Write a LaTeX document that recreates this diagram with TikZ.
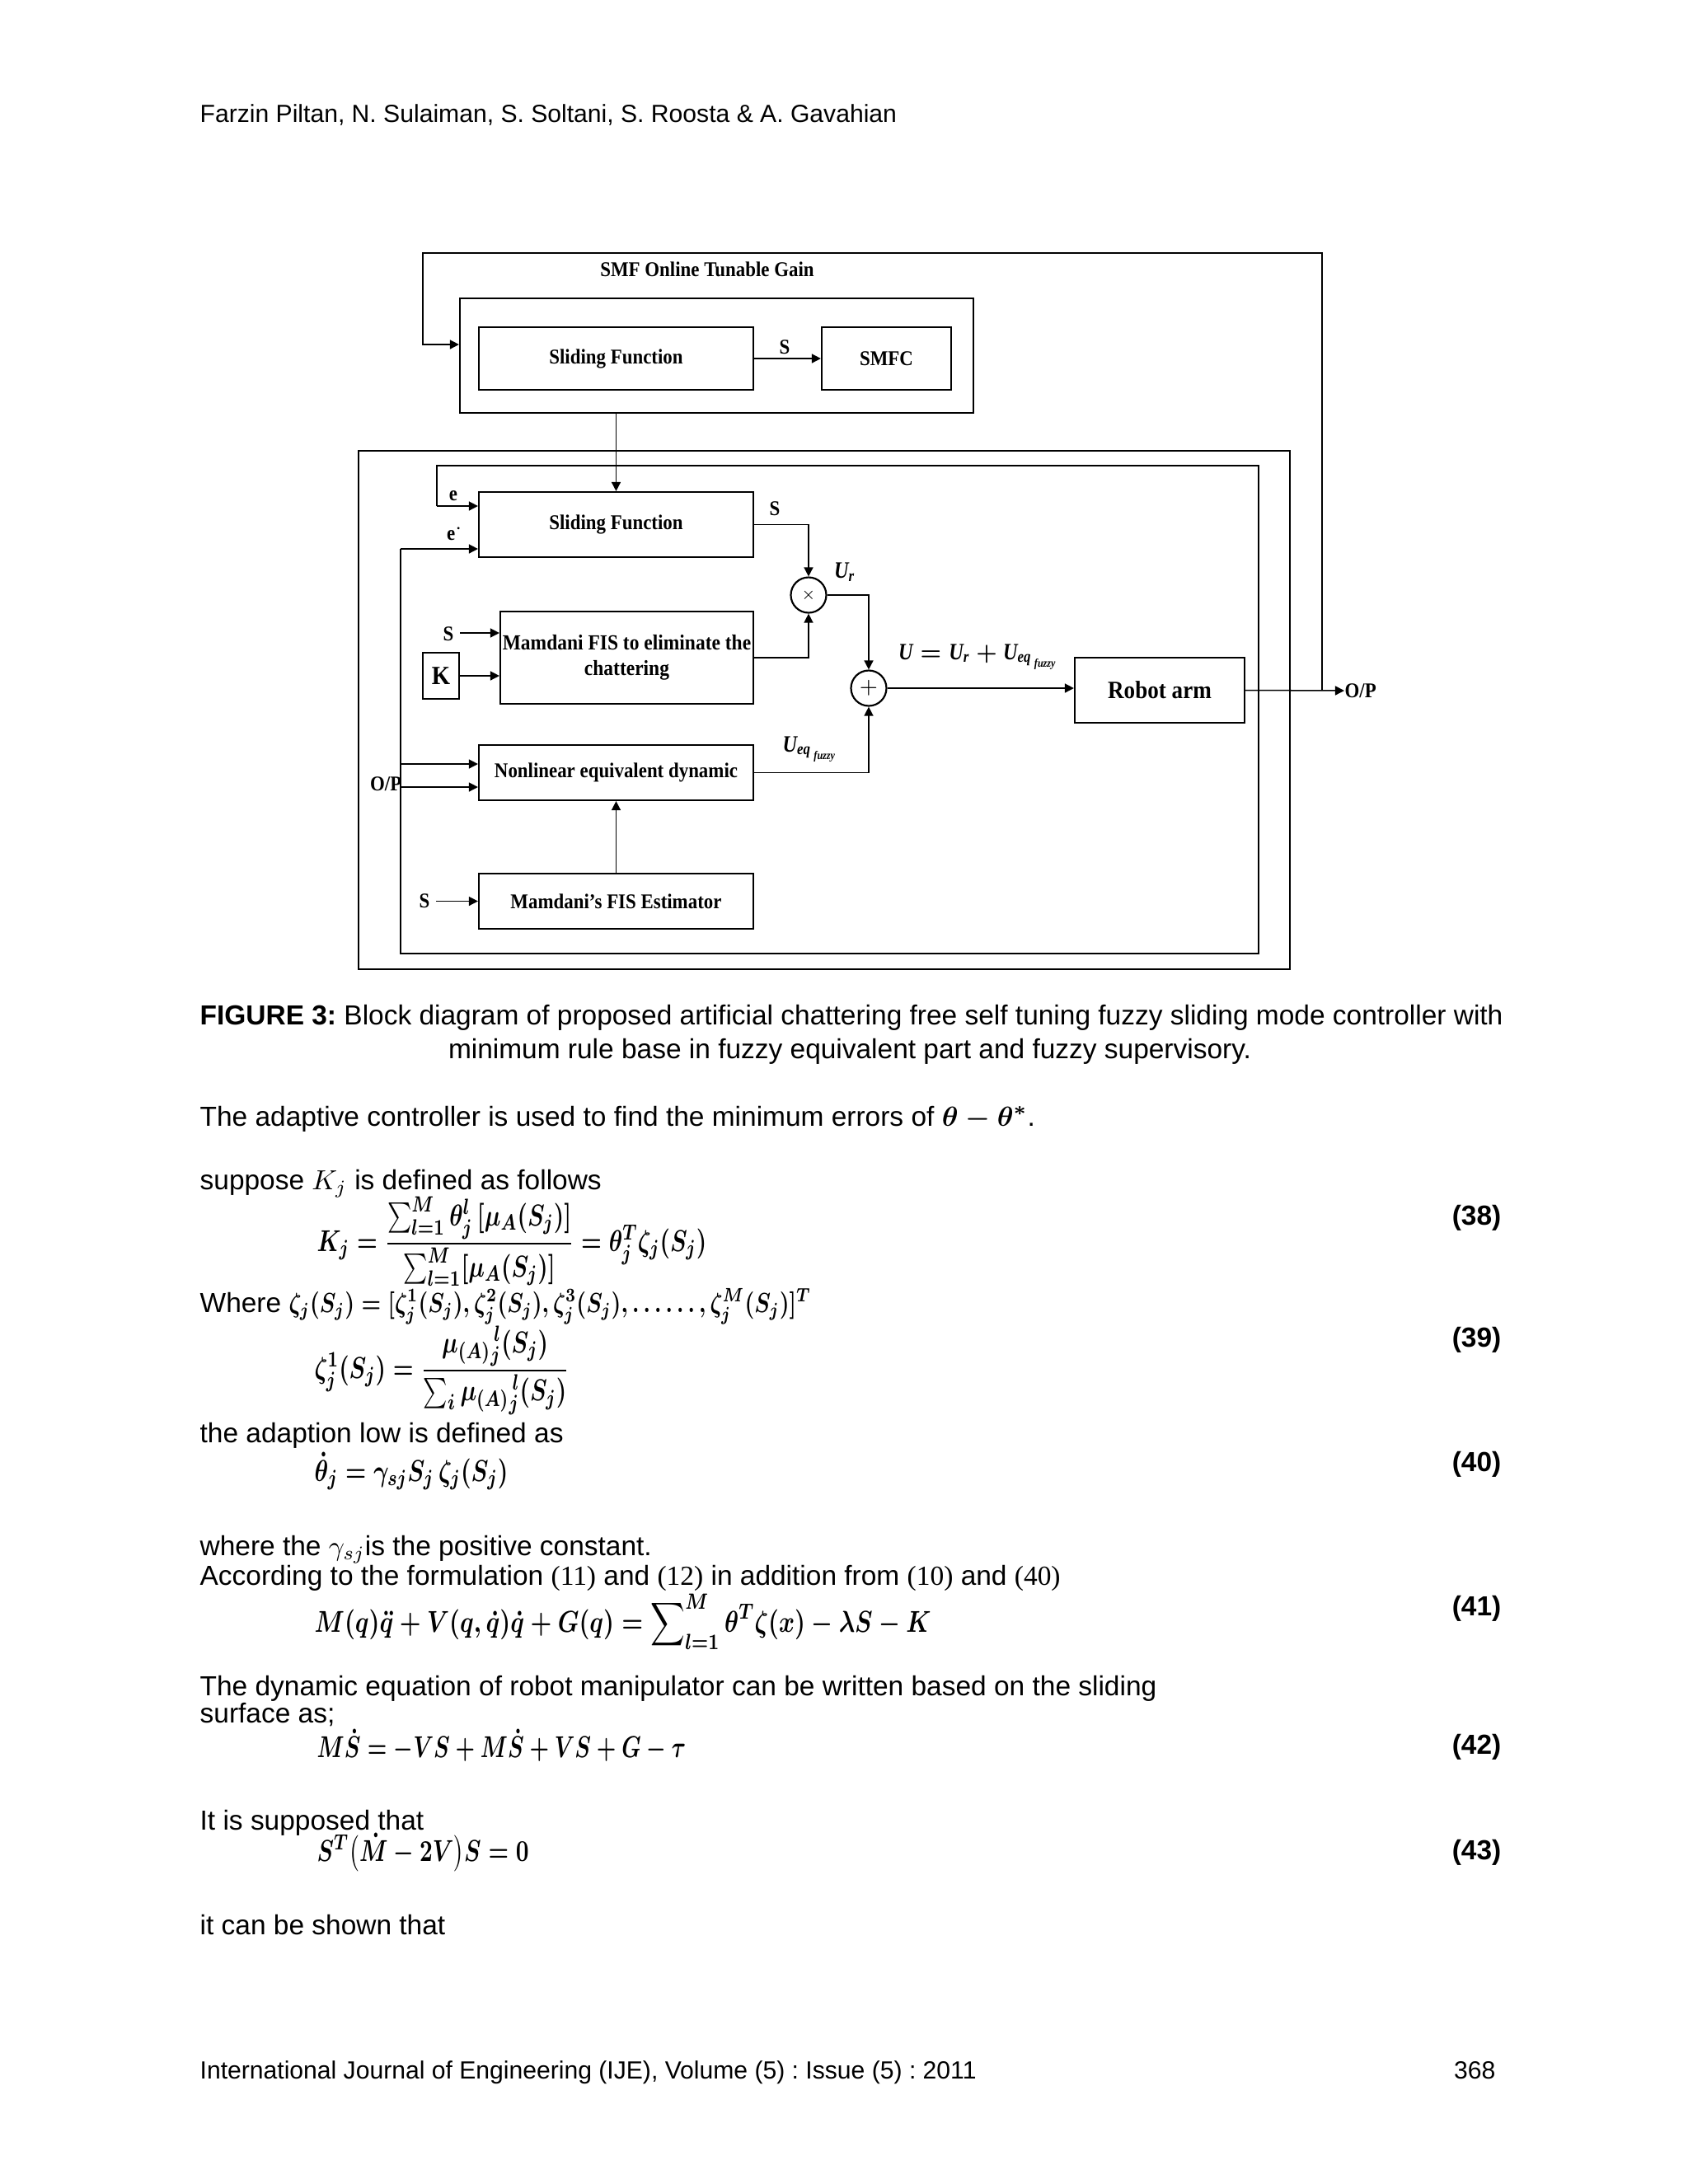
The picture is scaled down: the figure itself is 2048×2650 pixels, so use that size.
\documentclass[tikz,border=0pt]{standalone}
\usepackage{amsmath}
\usepackage{graphicx}
\usepackage{fontspec}
\setmainfont{Liberation Sans}
\newfontfamily\diagfont[FakeStretch=0.9]{Liberation Serif}
\newfontfamily\mlfont[FakeStretch=0.85]{Liberation Serif}
\newfontfamily\serifnum{Liberation Serif}
\newcommand\mi[1]{\text{\mlfont\bfseries\itshape #1}}
\usetikzlibrary{arrows.meta,calc}
\tikzset{
  bx/.style 2 args={minimum width=#1*0.29883pt, minimum height=#2*0.29883pt},
  blk/.style={draw, line width=0.65pt, inner sep=0pt, align=center,
    font=\diagfont\bfseries\fontsize{7.6}{9.6}\selectfont},
  frame/.style={draw, line width=0.65pt, inner sep=0pt},
  sumnode/.style={draw, circle, line width=0.65pt, inner sep=0pt, minimum size=43*0.29883pt},
  conn/.style={line width=0.45pt},
  arr/.style={conn, -{Triangle[length=3.3pt,width=3.3pt]}},
  lbl/.style={inner sep=0pt, font=\diagfont\bfseries\fontsize{7.6}{9}\selectfont},
  mlbl/.style={inner sep=0pt, font=\fontsize{8.5}{9}\selectfont\boldmath},
  body/.style={anchor=base west, inner sep=0pt, font=\fontsize{10}{12}\selectfont},
  small/.style={anchor=base west, inner sep=0pt, font=\fontsize{9}{11}\selectfont},
  eqn/.style={anchor=base west, inner sep=0pt, font=\fontsize{11}{13}\selectfont\boldmath},
  eqno/.style={anchor=base east, inner sep=0pt, font=\fontsize{10}{12}\selectfont\bfseries},
}
\begin{document}
\frenchspacing
\begin{tikzpicture}[x=0.29883pt,y=-0.29883pt]
\useasboundingbox (0,0) rectangle (2048,2650);

% ---------- header ----------
\node[small] (hdr) at (242,148) {Farzin Piltan, N. Sulaiman, S. Soltani, S. Roosta \& A. Gavahian};

% ---------- diagram blocks ----------
\node[frame, bx={1130}{629}] (outer) at (1000,861.5) {};
\node[frame, bx={623}{139}] (smf) at (869.5,431.5) {};
\node[blk, bx={333}{76}] (sf1) at (747.5,435) {Sliding Function};
\node[blk, bx={157}{76}] (smfc) at (1075.5,435) {SMFC};
\node[blk, bx={333}{79}] (sf2) at (747.5,636.5) {Sliding Function};
\node[blk, bx={307}{112}, font=\diagfont\bfseries\fontsize{7.8}{9.4}\selectfont] (mam) at (760.5,798) {Mamdani FIS to eliminate the\\chattering};
\node[blk, bx={44}{56}, font=\diagfont\bfseries\fontsize{9.5}{10}\selectfont] (kbox) at (535,820) {K};
\node[blk, bx={333}{67}] (nl) at (747.5,937.5) {Nonlinear equivalent dynamic};
\node[blk, bx={333}{67}] (est) at (747.5,1093.5) {Mamdani’s FIS Estimator};
\node[blk, bx={206}{79}, font=\diagfont\bfseries\fontsize{9}{10}\selectfont] (robot) at (1407,837.5) {Robot arm};
\node[sumnode] (mult) at (981,722) {\fontsize{5}{5}\selectfont$\times$};
\node[sumnode] (plus) at (1054,835) {\fontsize{8}{8}\selectfont$+$};

% ---------- labels ----------
\node[lbl] (title) at (858,327) {SMF Online Tunable Gain};
\node[lbl] (s1) at (952,421) {S};
\node[lbl] (le) at (550,602) {e};
\node[lbl] (led) at (552,646) {e$^{\boldsymbol{\cdot}}$};
\node[lbl] (s2) at (940,617) {S};
\node[mlbl] (ur) at (1025,694) {$\mi{U}_{\mi{r}}$};
\node[mlbl] (ueq) at (1187,797) {$\mi{U} = \mi{U}_{\mi{r}} + \mi{U}_{\mi{eq}_{\,\mi{fuzzy}}}$};
\node[mlbl] (ueqf) at (983,909) {$\mi{U}_{\mi{eq}_{\,\mi{fuzzy}}}$};
\node[lbl, anchor=east] (s3) at (551,769) {S};
\node[lbl, anchor=east] (s4) at (522,1093) {S};
\node[lbl, anchor=east] (opl) at (488,951) {O/P};
\node[lbl, anchor=west] (opr) at (1631,838) {O/P};

% ---------- coordinates ----------
\coordinate (fbR) at (1604,837);
\coordinate (fbTR) at (1604,307);
\coordinate (fbTL) at (513,307);
\coordinate (fbIn) at (513,418);
\coordinate (loopR) at (1527,837);
\coordinate (loopTL) at (530,565);
\coordinate (loopE) at (530,614);
\coordinate (loopBL) at (486,1157);
\coordinate (loopED) at (486,666);
\coordinate (brA) at (486,927);
\coordinate (brB) at (486,955);
\coordinate (sA) at (558,768);
\coordinate (sE) at (529,1093.5);

% ---------- connectors ----------
\draw[arr] (sf1.east) -- (smfc.west);
\draw[arr] (sf2.north |- smf.south) -- (sf2.north);
\draw[arr] (fbR) -- (fbTR) -- (fbTL) -- (fbIn) -- (smf.west |- fbIn);
\draw[arr] (robot.east) -- (opr.west);
\draw[conn] (loopR) |- (loopTL) -- (loopE);
\draw[arr] (loopE) -- (sf2.west |- loopE);
\draw[conn] (loopR) |- (loopBL) -- (loopED);
\draw[arr] (loopED) -- (sf2.west |- loopED);
\draw[arr] (brA) -- (nl.west |- brA);
\draw[arr] (brB) -- (nl.west |- brB);
\draw[arr] (sf2.east) -| (mult.north);
\draw[arr] (mam.east) -| (mult.south);
\draw[arr] (mult.east) -| (plus.north);
\draw[arr] (nl.east) -| (plus.south);
\draw[arr] (plus.east) -- (robot.west |- plus.east);
\draw[arr] (sA) -- (mam.west |- sA);
\draw[arr] (kbox.east) -- (mam.west |- kbox.east);
\draw[arr] (est.north) -- (nl.south);
\draw[arr] (sE) -- (est.west);

% ---------- caption ----------
\node[body] (cap1) at (242,1243) {\textbf{FIGURE 3:} Block diagram of proposed artificial chattering free self tuning fuzzy sliding mode controller with};
\node[body, anchor=base] (cap2) at (1031,1284) {minimum rule base in fuzzy equivalent part and fuzzy supervisory.};

% ---------- text and equations ----------
\node[body] (t1) at (242,1366) {The adaptive controller is used to find the minimum errors of {\boldmath$\theta - \theta^{*}$}.};
\node[body] (t2) at (242,1443) {suppose $K_j$ is defined as follows};
\node[eqn] (e38) at (384,1518) {\scalebox{0.76}[1]{$K_j = \dfrac{\sum_{l=1}^{M}\theta_j^{l}\,[\mu_A(S_j)]}{\sum_{l=1}^{M}[\mu_A(S_j)]} = \theta_j^{T}\zeta_j(S_j)$}};
\node[eqno] (n38) at (1822,1486) {(38)};
\node[body] (t3) at (242,1592) {Where \scalebox{0.79}[1]{\boldmath$\zeta_j(S_j) = [\zeta_j^{1}(S_j),\zeta_j^{2}(S_j),\zeta_j^{3}(S_j),\ldots\ldots,\zeta_j^{M}(S_j)]^{T}$}};
\node[eqn] (e39) at (381,1672) {\scalebox{0.76}[1]{$\zeta_j^{1}(S_j) = \dfrac{\mu_{(A)}{}_j^{\,l}(S_j)}{\sum_i \mu_{(A)}{}_j^{\,l}(S_j)}$}};
\node[eqno] (n39) at (1822,1634) {(39)};
\node[body] (t4) at (242,1750) {the adaption low is defined as};
\node[eqn] (e40) at (381,1797) {\scalebox{0.77}[1]{$\dot\theta_j = \gamma_{sj}S_j\,\zeta_j(S_j)$}};
\node[eqno] (n40) at (1822,1785) {(40)};
\node[body] (t5) at (242,1887) {where the $\gamma_{sj}$is the positive constant.};
\node[body] (t6) at (242,1923) {According to the formulation {\serifnum(11)} and {\serifnum(12)} in addition from {\serifnum(10)} and {\serifnum(40)}};
\node[eqn] (e41) at (381,1980) {\scalebox{0.79}[1]{$M(q)\ddot q + V(q,\dot q)\dot q + G(q) = \displaystyle\sum\nolimits_{l=1}^{M}\theta^{T}\zeta(x) - \lambda S - K$}};
\node[eqno] (n41) at (1822,1960) {(41)};
\node[body] (t7) at (242,2057) {The dynamic equation of robot manipulator can be written based on the sliding};
\node[body] (t8) at (242,2090) {surface as;};
\node[eqn] (e42) at (384,2132) {\scalebox{0.72}[1]{$M\dot S = -VS + M\dot S + VS + G - \tau$}};
\node[eqno] (n42) at (1822,2128) {(42)};
\node[body] (t9) at (242,2220) {It is supposed that};
\node[eqn] (e43) at (384,2258) {\scalebox{0.75}[1]{$S^{T}\bigl(\dot M - 2V\bigr)S = 0$}};
\node[eqno] (n43) at (1822,2256) {(43)};
\node[body] (t10) at (242,2347) {it can be shown that};

% ---------- footer ----------
\node[small] (ftr) at (242,2522) {International Journal of Engineering (IJE), Volume (5) : Issue (5) : 2011};
\node[small, anchor=base east] (pg) at (1815,2522) {368};
\end{tikzpicture}
\end{document}
